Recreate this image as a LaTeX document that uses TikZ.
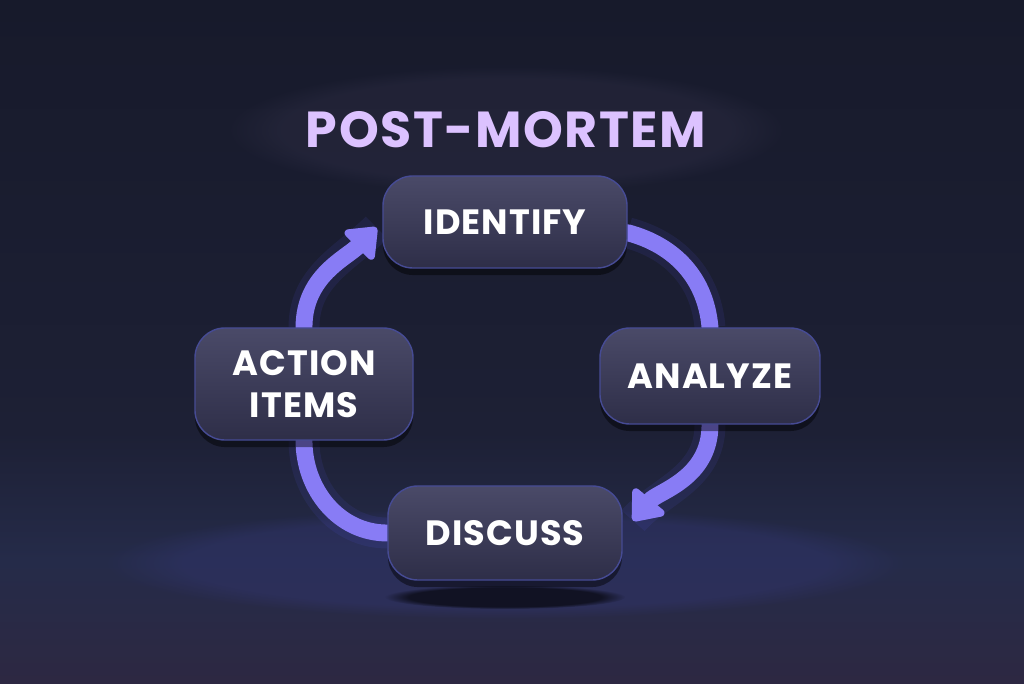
\documentclass[tikz,border=0pt]{standalone}
\usepackage{fontspec}
\setmainfont{Poppins}
\newfontfamily\labelfont{Poppins}[LetterSpace=3]
\usetikzlibrary{arrows.meta,shadows,fadings}

\definecolor{bgtop}{HTML}{171A2B}
\definecolor{bgmid}{HTML}{1D2035}
\definecolor{floortop}{HTML}{252B49}
\definecolor{floormid}{HTML}{373155}
\definecolor{floorbot}{HTML}{2D2842}
\definecolor{boxtop}{HTML}{4A4A68}
\definecolor{boxbot}{HTML}{2E2E48}
\definecolor{boxedge}{HTML}{464B94}
\definecolor{loopcol}{HTML}{887CF5}
\definecolor{glowcol}{HTML}{5A58F0}
\definecolor{titlecol}{HTML}{DCC2FF}

\pgfdeclarelayer{back}
\pgfdeclarelayer{links}
\pgfsetlayers{back,links,main}

\tikzset{
  stepbox/.style={rounded corners=0.75cm, top color=boxtop, bottom color=boxbot,
    draw=boxedge, line width=1pt, text=white, align=center, inner sep=0pt,
    font=\labelfont\bfseries\fontsize{25}{30}\selectfont,
    drop shadow={shadow xshift=0pt, shadow yshift=-5pt, opacity=0.45, fill=black}},
  titletext/.style={text=titlecol, font=\labelfont\bfseries\fontsize{36}{40}\selectfont},
  loopline/.style={line width=12pt, draw=loopcol, line cap=round,
    preaction={draw=glowcol, line width=22pt, opacity=0.1, -}},
  tipped/.style={-{Triangle[length=0.75cm, width=1.15cm, round]}},
}

\begin{document}
\begin{tikzpicture}[x=0.025cm, y=0.025cm]
\useasboundingbox (0,0) rectangle (1024,683);

\node[titletext] (title) at (506,553) {POST-MORTEM};
\node[stepbox, minimum width=6.1cm, minimum height=2.3cm] (identify) at (505,461) {IDENTIFY};
\node[stepbox, minimum width=5.5cm, minimum height=2.4cm] (analyze) at (710,307) {ANALYZE};
\node[stepbox, minimum width=5.85cm, minimum height=2.35cm] (discuss) at (505,150) {DISCUSS};
\node[stepbox, minimum width=5.45cm, minimum height=2.8cm] (actions) at (304,299) {ACTION\\ITEMS};

\begin{pgfonlayer}{back}
\fill[top color=bgtop, bottom color=bgmid] (0,250) rectangle (1024,683);
\fill[top color=bgmid, bottom color=floortop] (0,123) rectangle (1024,250.5);
\fill[top color=floortop, middle color=floormid, bottom color=floorbot] (0,0) rectangle (1024,123.5);
\fill[glowcol!35!floortop, opacity=0.3, path fading=circle with fuzzy edge 20 percent] (505,120) ellipse [x radius=10cm, y radius=1.4cm];
\fill[black, opacity=0.6, path fading=circle with fuzzy edge 20 percent] (505,86) ellipse [x radius=3cm, y radius=0.3cm];
\fill[titlecol!30!bgtop, opacity=0.16, path fading=circle with fuzzy edge 20 percent] (title) ellipse [x radius=7cm, y radius=1.6cm];
\end{pgfonlayer}

\begin{pgfonlayer}{links}
\draw[loopline] (identify.-5) to[out=-15, in=95] (analyze.north);
\draw[loopline, tipped, shorten >=0.4cm] (analyze.south) to[out=-90, in=50] (discuss.east);
\draw[loopline] (discuss.west) to[out=180, in=-90] (actions.south);
\draw[loopline, tipped, shorten >=0.2cm] (actions.north) to[out=90, in=225] (identify.west);
\end{pgfonlayer}

\end{tikzpicture}
\end{document}
